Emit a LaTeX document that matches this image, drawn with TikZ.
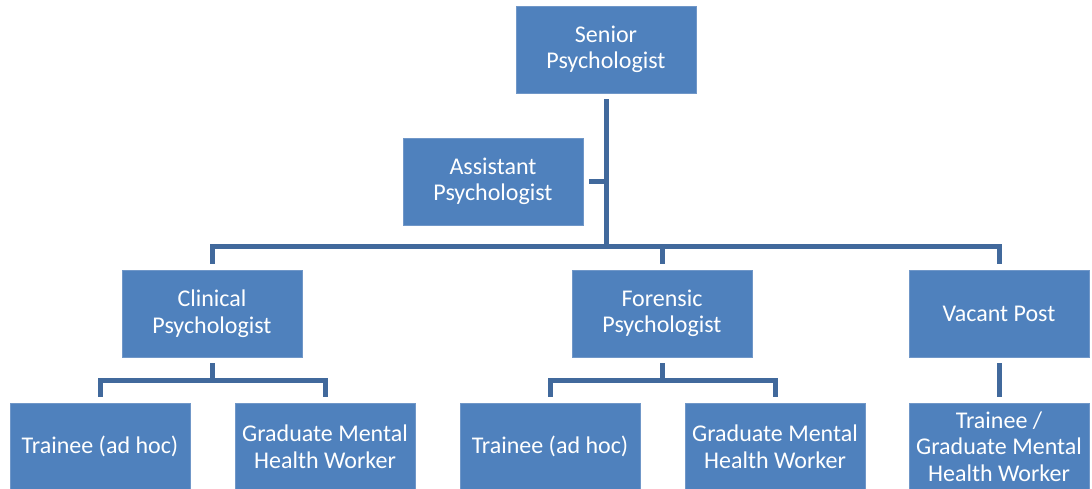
\documentclass[tikz,border=0pt]{standalone}
\usepackage{fontspec}
\setmainfont{Carlito}
\usetikzlibrary{calc}
\definecolor{chartBox}{HTML}{4F81BD}
\definecolor{chartEdge}{HTML}{7097C8}
\definecolor{chartLink}{HTML}{41699C}
\begin{document}
\begin{tikzpicture}[x=1pt,y=-1pt,
    every node/.style={font=\fontsize{24}{26.5}\selectfont},
    post/.style={rectangle, fill=chartBox, draw=chartEdge, line width=0.8pt,
      text=white, align=center, inner sep=0pt, minimum width=180pt, minimum height=87pt},
    link/.style={draw=chartLink, line width=5pt}]
    \useasboundingbox (0,0) rectangle (1092,488);
    % top level
    \node[post] (senior) at (606,49.5) {Senior\\Psychologist};
    \node[post] (assistant) at (493,181.5) {Assistant\\Psychologist};
    % second row
    \node[post] (clinical) at (212,313.5) {Clinical\\Psychologist};
    \node[post] (forensic) at (662,313.5) {Forensic\\Psychologist};
    \node[post] (vacant) at (999,313.5) {Vacant Post};
    % third row
    \node[post] (clinTrainee) at (100,446.5) {Trainee (ad hoc)};
    \node[post] (clinGrad) at (325,446.5) {Graduate Mental\\Health Worker};
    \node[post] (foreTrainee) at (550,446.5) {Trainee (ad hoc)};
    \node[post] (foreGrad) at (775,446.5) {Graduate Mental\\Health Worker};
    \node[post] (vacTrainee) at (999,446.5) {Trainee /\\Graduate Mental\\Health Worker};
    % connectors
    \coordinate (bus) at (606,246);
    \coordinate (clinBus) at (212,380);
    \coordinate (foreBus) at (662,380);
    \draw[link] ([yshift=-6pt]senior.south) -- (senior.south |- bus);
    \draw[link] ([xshift=6pt]assistant.east) -- (assistant.east -| senior.south);
    \draw[link] ([yshift=6pt]clinical.north) |- (bus) -| ([yshift=6pt]vacant.north);
    \draw[link] ([yshift=6pt]forensic.north) -- (forensic.north |- bus);
    \draw[link] ([yshift=-6pt]clinical.south) -- (clinical.south |- clinBus);
    \draw[link] ([yshift=6pt]clinTrainee.north) |- (clinBus) -| ([yshift=6pt]clinGrad.north);
    \draw[link] ([yshift=-6pt]forensic.south) -- (forensic.south |- foreBus);
    \draw[link] ([yshift=6pt]foreTrainee.north) |- (foreBus) -| ([yshift=6pt]foreGrad.north);
    \draw[link] ([yshift=-6pt]vacant.south) -- ([yshift=6pt]vacTrainee.north);
\end{tikzpicture}
\end{document}
